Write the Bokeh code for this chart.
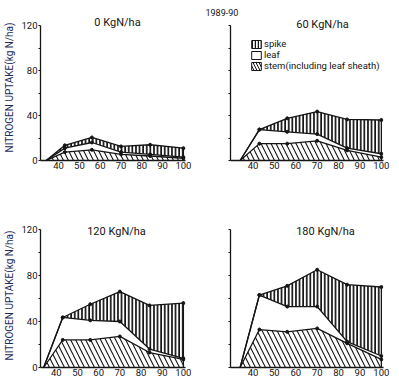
import numpy as np
from bokeh.plotting import figure
from bokeh.layouts import column, row
from bokeh.models import Label, Legend, LegendItem, FixedTicker, Range1d, Title
from bokeh.embed import file_html
from bokeh.resources import INLINE

# ---- data ----
days = [34, 43, 56, 70, 84, 100]
panel_titles = ["0 KgN/ha", "60 KgN/ha", "120 KgN/ha", "180 KgN/ha"]

stem_0 = [0, 7.5, 9.5, 5.5, 4, 2]
leaf_0 = [0, 3.5, 6.5, 2, 1.5, 1]
spike_0 = [0, 2.5, 4.5, 5, 8.5, 8]

stem_60 = [0, 15, 15, 17.5, 9, 3]
leaf_60 = [0, 12.5, 10.5, 6, 2, 3]
spike_60 = [0, 0, 12, 20, 25.5, 30]

stem_120 = [0, 24, 24, 27, 13, 7]
leaf_120 = [0, 19.5, 17, 13, 3, 1]
spike_120 = [0, 0, 14, 26, 38, 48]

stem_180 = [0, 33, 31, 34, 21, 7]
leaf_180 = [0, 30, 22, 19, 1.5, 3]
spike_180 = [0, 0, 18, 32, 49.5, 60]

y_ticks = [0, 20, 40, 60, 80, 100, 120]
y_tick_labels = {0: "0", 40: "40", 80: "80", 120: "120"}
x_ticks = [40, 50, 60, 70, 80, 90, 100]
year_text = "1989-90"
y_title = "NITROGEN UPTAKE(kg N/ha)"
legend_labels = ["spike", "leaf", "stem(including leaf sheath)"]

FONT = "Roboto"
INK = "#151515"


def make_panel(title, stem, leaf, spike, x_start, y_top, left_labels,
               bl, br, bt, bb, fw, fh, title_x, title_y):
    p = figure(width=bl + fw + br, height=bt + fh + bb,
               min_border_left=bl, min_border_right=br,
               min_border_top=bt, min_border_bottom=bb,
               x_range=Range1d(x_start, 101), y_range=Range1d(0, y_top),
               output_backend="svg", toolbar_location=None)
    p.xgrid.visible = False
    p.ygrid.visible = False
    p.outline_line_color = None

    s1 = np.array(stem, dtype=float)
    s2 = s1 + np.array(leaf, dtype=float)
    s3 = s2 + np.array(spike, dtype=float)

    p.varea(x=days, y1=0, y2=s1, fill_color="white",
            hatch_pattern="\\", hatch_scale=10, hatch_weight=1.1, hatch_color=INK)
    p.varea(x=days, y1=s2, y2=s3, fill_color="white",
            hatch_pattern="|", hatch_scale=3.6, hatch_weight=1.8, hatch_color=INK)
    for s in (s1, s2, s3):
        p.line(days, s, line_color=INK, line_width=1.3)
        p.scatter(days[1:], s[1:], size=3, color=INK)
    p.segment(x0=[days[-1]], y0=[0], x1=[days[-1]], y1=[s3[-1]],
              line_color=INK, line_width=1.3)

    for ax in (p.xaxis[0], p.yaxis[0]):
        ax.axis_line_color = INK
        ax.axis_line_width = 1.3
        ax.major_tick_line_color = INK
        ax.minor_tick_line_color = None
        ax.major_label_text_font = FONT
        ax.major_label_text_font_size = "9.5px"
        ax.major_label_text_color = INK
    p.xaxis.ticker = FixedTicker(ticks=x_ticks)
    p.xaxis.major_tick_out = 0
    p.xaxis.major_tick_in = 0
    p.xaxis.major_label_standoff = 1
    p.yaxis.ticker = FixedTicker(ticks=y_ticks)
    p.yaxis.bounds = (0, 120)
    p.yaxis.major_tick_out = 2
    p.yaxis.major_tick_in = 0
    p.yaxis.major_label_standoff = 1
    if left_labels:
        p.yaxis.major_label_overrides = {t: y_tick_labels.get(t, "") for t in y_ticks}
        p.yaxis.axis_label = y_title
        p.yaxis.axis_label_text_font = FONT
        p.yaxis.axis_label_text_font_size = "10px"
        p.yaxis.axis_label_text_font_style = "normal"
        p.yaxis.axis_label_text_color = "#1d2c5c"
        p.yaxis.axis_label_standoff = 3
    else:
        p.yaxis.major_label_overrides = {t: "" for t in y_ticks}

    p.add_layout(Label(x=title_x, y=title_y, x_units="screen", y_units="screen",
                       text=title, text_align="center", text_baseline="middle",
                       text_font=FONT, text_font_size="11px", text_color=INK))
    return p


# top row: 205 px tall; bottom row: 174 px tall (borders equal within a row)
p1 = make_panel(panel_titles[0], stem_0, leaf_0, spike_0, 31.3, 129.8, True,
                40, 11, 14, 45, 145, 146, 77, 138.5)
p2 = make_panel(panel_titles[1], stem_60, leaf_60, spike_60, 29.5, 129.8, False,
                34, 16, 14, 45, 153, 146, 92, 136)
p3 = make_panel(panel_titles[2], stem_120, leaf_120, spike_120, 32.5, 125.2, True,
                40, 11, 18, 12, 145, 144, 76, 136)
p4 = make_panel(panel_titles[3], stem_180, leaf_180, spike_180, 29.5, 125.2, False,
                34, 16, 18, 12, 153, 144, 95, 136)

# year label as the 60 kg panel's title, pulled left over the axis
p2.add_layout(Title(text=year_text, align="left", offset=-25, standoff=-2,
                    text_font=FONT, text_font_size="9px",
                    text_font_style="normal", text_color=INK), "above")

# legend in the 60 kg panel
nan1 = [np.nan]
r_spike = p2.quad(left=nan1, right=nan1, top=nan1, bottom=nan1, fill_color="white",
                  hatch_pattern="|", hatch_scale=3, hatch_weight=1.5,
                  hatch_color=INK, line_color=INK, line_width=1)
r_leaf = p2.quad(left=nan1, right=nan1, top=nan1, bottom=nan1, fill_color="white",
                 line_color=INK, line_width=1)
r_stem = p2.quad(left=nan1, right=nan1, top=nan1, bottom=nan1, fill_color="white",
                 hatch_pattern="\\", hatch_scale=6, hatch_weight=1,
                 hatch_color=INK, line_color=INK, line_width=1)
legend = Legend(items=[LegendItem(label=legend_labels[0], renderers=[r_spike]),
                       LegendItem(label=legend_labels[1], renderers=[r_leaf]),
                       LegendItem(label=legend_labels[2], renderers=[r_stem])],
                location=(20, 89), glyph_width=12, glyph_height=10,
                label_height=10, spacing=0, padding=0, margin=0,
                label_standoff=2, border_line_color=None,
                background_fill_alpha=0, label_text_font=FONT,
                label_text_font_size="9.5px", label_text_color=INK)
p2.add_layout(legend)

layout = column(row(p1, p2), row(p3, p4))
open("out.html", "w").write(file_html(layout, INLINE))
